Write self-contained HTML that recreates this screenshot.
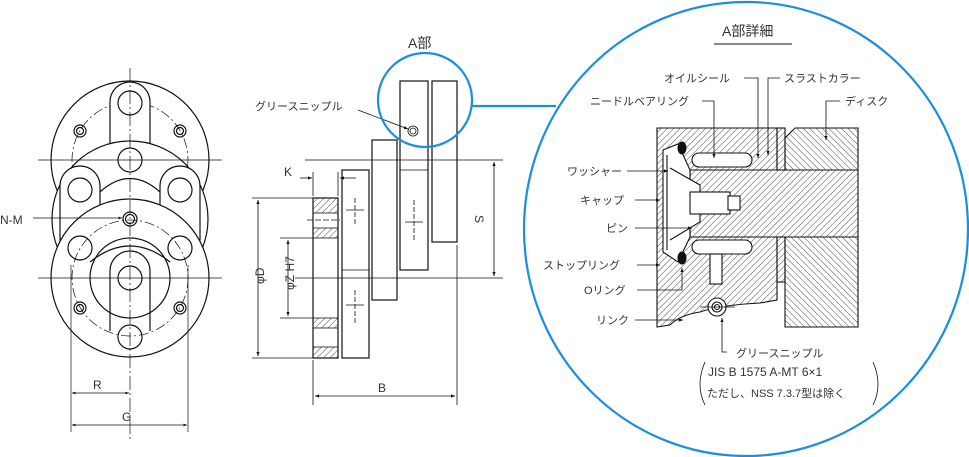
<!DOCTYPE html>
<html><head><meta charset="utf-8"><style>
html,body{margin:0;padding:0;background:#fff}
svg{display:block}
text{font-family:"Liberation Sans","Noto Sans CJK JP",sans-serif;fill:#333}
</style></head><body>
<svg width="969" height="457" viewBox="0 0 969 457" xmlns="http://www.w3.org/2000/svg">
<defs>
<pattern id="h" width="4.5" height="4.5" patternUnits="userSpaceOnUse" patternTransform="rotate(45)"><line x1="0" y1="0" x2="0" y2="4.5" stroke="#222" stroke-width="0.8"/></pattern>
<pattern id="h2" width="4.5" height="4.5" patternUnits="userSpaceOnUse" patternTransform="rotate(-45)"><line x1="0" y1="0" x2="0" y2="4.5" stroke="#222" stroke-width="0.8"/></pattern>
<marker id="a" viewBox="0 0 10 10" refX="10" refY="5" markerWidth="7" markerHeight="5" orient="auto-start-reverse"><path d="M0,1 L10,5 L0,9z" fill="#111"/></marker>
</defs>
<g fill="none" stroke="#111" stroke-width="1.2">
<circle cx="130" cy="160" r="79" fill="#fff"/>
<circle cx="130" cy="160" r="58" stroke-dasharray="10,3,2,3" stroke-width="0.7"/>
<path d="M110,224 L110,102 A20,20 0 0 1 150,102 L150,224" fill="#fff"/>
<circle cx="130" cy="103" r="12"/>
<circle cx="80" cy="131" r="6"/><circle cx="80" cy="131" r="3.5"/>
<circle cx="180" cy="131" r="6"/><circle cx="180" cy="131" r="3.5"/>
<circle cx="130" cy="219" r="78" fill="#fff"/>
<path d="M60,186 A20,20 0 0 1 100,186 L100,240 L60,240z" fill="#fff"/>
<path d="M160,186 A20,20 0 0 1 200,186 L200,240 L160,240z" fill="#fff"/>
<path d="M100,192 Q130,165 160,192" />
<circle cx="80" cy="190" r="12"/><circle cx="180" cy="190" r="12"/>
<circle cx="130" cy="160" r="12"/>
<circle cx="130" cy="278" r="79" fill="#fff"/>
<circle cx="130" cy="278" r="58" stroke-dasharray="10,3,2,3" stroke-width="0.7"/>
<circle cx="130" cy="278" r="40"/>
<path d="M110,331 L110,278 L110,271 A20,20 0 0 1 150,271 L150,331"/>
<path d="M90,262 Q130,230 170,262"/>
<circle cx="130" cy="278" r="12"/>
<circle cx="130" cy="337" r="12"/>
<circle cx="80" cy="248" r="12"/><circle cx="180" cy="248" r="12"/>
<circle cx="80" cy="308" r="6"/><circle cx="80" cy="308" r="3.5"/>
<circle cx="180" cy="308" r="6"/><circle cx="180" cy="308" r="3.5"/>
<circle cx="130" cy="219" r="7"/><circle cx="130" cy="219" r="4.5"/>
</g>
<g stroke="#111" stroke-width="0.7" fill="none">
<line x1="130" y1="68" x2="130" y2="440" stroke-dasharray="14,3,2,3"/>
<line x1="38" y1="160" x2="222" y2="160"/>
<line x1="38" y1="278" x2="222" y2="278"/>
<line x1="71" y1="265" x2="71" y2="432"/>
<line x1="188" y1="265" x2="188" y2="432"/>
<line x1="72" y1="393" x2="129" y2="393" marker-start="url(#a)" marker-end="url(#a)"/>
<line x1="72" y1="425" x2="187" y2="425" marker-start="url(#a)" marker-end="url(#a)"/>
<line x1="33" y1="218" x2="122" y2="218" marker-end="url(#a)"/>
</g>
<text x="0" y="224" font-size="12">N-M</text>
<text x="93" y="389" font-size="12">R</text>
<text x="122" y="421" font-size="12">G</text>

<g fill="#fff" stroke="#111" stroke-width="1.2">
<rect x="432" y="81" width="25" height="161"/>
<rect x="400" y="81" width="28" height="189"/>
<rect x="372" y="140" width="25" height="160"/>
<rect x="342" y="170" width="27" height="188"/>
<rect x="313" y="198" width="25" height="160"/>
</g>
<g stroke="#111" stroke-width="0.8" fill="none">
<line x1="400" y1="170" x2="428" y2="170"/>
<line x1="342" y1="270" x2="369" y2="270"/>
<rect x="313" y="198" width="25" height="15" fill="url(#h)"/>
<rect x="313" y="228" width="25" height="10" fill="url(#h)"/>
<rect x="313" y="318" width="25" height="10" fill="url(#h)"/>
<rect x="313" y="347" width="25" height="11" fill="url(#h)"/>
<line x1="307" y1="220" x2="340" y2="220" stroke-dasharray="6,2"/>
<line x1="305" y1="160" x2="503" y2="160"/>
<line x1="295" y1="278" x2="503" y2="278"/>
<line x1="494" y1="162" x2="494" y2="276" marker-start="url(#a)" marker-end="url(#a)"/>
<line x1="252" y1="198" x2="313" y2="198"/>
<line x1="252" y1="358" x2="313" y2="358"/>
<line x1="258" y1="200" x2="258" y2="356" marker-start="url(#a)" marker-end="url(#a)"/>
<line x1="280" y1="238" x2="313" y2="238"/>
<line x1="280" y1="318" x2="313" y2="318"/>
<line x1="288" y1="240" x2="288" y2="316" marker-start="url(#a)" marker-end="url(#a)"/>
<line x1="313" y1="360" x2="313" y2="405"/>
<line x1="457" y1="245" x2="457" y2="405"/>
<line x1="315" y1="396" x2="455" y2="396" marker-start="url(#a)" marker-end="url(#a)"/>
<line x1="313" y1="172" x2="313" y2="196"/><line x1="338" y1="172" x2="338" y2="196"/>
<line x1="300" y1="178" x2="312" y2="178" marker-end="url(#a)"/>
<line x1="340" y1="178" x2="356" y2="178" marker-start="url(#a)"/>
<line x1="355" y1="198" x2="355" y2="225" stroke-dasharray="5,2"/><line x1="346" y1="210" x2="364" y2="210"/>
<line x1="355" y1="290" x2="355" y2="325" stroke-dasharray="5,2"/><line x1="346" y1="305" x2="364" y2="305"/>
<line x1="414" y1="200" x2="414" y2="240" stroke-dasharray="5,2"/><line x1="405" y1="222" x2="423" y2="222"/>
<line x1="358" y1="110" x2="408" y2="129" marker-end="url(#a)"/>
<circle cx="413" cy="131" r="5"/><circle cx="413" cy="131" r="3"/>
</g>
<text x="284" y="176" font-size="12">K</text>
<text x="246" y="290" font-size="12" transform="rotate(-90 252 278)">φD</text>
<text x="270" y="290" font-size="12" transform="rotate(-90 282 278)">φZ H7</text>
<text x="475" y="225" font-size="12" transform="rotate(90 480 220)">S</text>
<text x="378" y="392" font-size="12">B</text>
<text x="255" y="110" font-size="11">グリースニップル</text>
<text x="408" y="48" font-size="14">A部</text>
<circle cx="425" cy="100" r="47" fill="none" stroke="#1a8ee0" stroke-width="2.2"/>
<line x1="472" y1="106" x2="556" y2="106" stroke="#1a8ee0" stroke-width="2.2"/>
<ellipse cx="746" cy="229" rx="222" ry="227" fill="none" stroke="#1a8ee0" stroke-width="2.2"/>

<text x="722" y="36" font-size="14">A部詳細</text>
<line x1="714" y1="44" x2="792" y2="44" stroke="#111" stroke-width="1"/>
<g stroke="#111" stroke-width="1.1">
<path d="M657,128 L777,128 L777,170 L690,170 L690,237 L777,237 L777,300 L760,303 Q720,305 700,312 Q680,315 670,325 L657,327 Z" fill="url(#h)"/>
<path d="M690,170 L858,170 L858,237 L690,237 Z" fill="url(#h)"/>
<path d="M795,128 L858,128 L858,170 L785,170 L785,138 Z" fill="url(#h2)"/>
<path d="M785,237 L858,237 L858,327 L785,327 Z" fill="url(#h2)"/>
<rect x="777" y="128" width="8" height="42" fill="url(#h)"/>
<rect x="777" y="237" width="8" height="45" fill="url(#h)"/>
<path d="M663,150 L663,252 L678,262 L690,237 L690,170 L678,144 Z" fill="#fff"/>
<path d="M667,155 L667,250" fill="none"/>
<path d="M670,168 L700,185 L700,222 L670,240" fill="#fff"/>
<rect x="690" y="192" width="40" height="22" fill="#fff"/>
<rect x="728" y="196" width="12" height="14" fill="#fff"/>
<rect x="692" y="153" width="60" height="14" rx="7" fill="#fff"/>
<rect x="692" y="240" width="60" height="14" rx="7" fill="#fff"/>
<rect x="710" y="254" width="12" height="30" fill="#fff"/>
<ellipse cx="682" cy="148" rx="4" ry="6" fill="#111"/>
<ellipse cx="682" cy="258" rx="4" ry="6" fill="#111"/>
<circle cx="717" cy="307" r="9" fill="#fff"/><circle cx="717" cy="307" r="5" fill="none"/><circle cx="717" cy="307" r="2.5" fill="none"/>
</g>
<g stroke="#111" stroke-width="0.8" fill="none">
<line x1="700" y1="307" x2="735" y2="307"/>
<polyline points="744,78 758,78 758,158" marker-end="url(#a)"/>
<polyline points="780,78 768,78 768,155" marker-end="url(#a)"/>
<polyline points="702,101 714,101 714,158" marker-end="url(#a)"/>
<polyline points="840,101 826,101 826,140" marker-end="url(#a)"/>
<line x1="627" y1="171" x2="668" y2="171" marker-end="url(#a)"/>
<line x1="635" y1="200" x2="660" y2="200" marker-end="url(#a)"/>
<line x1="635" y1="228" x2="692" y2="228" marker-end="url(#a)"/>
<line x1="637" y1="265" x2="660" y2="265" marker-end="url(#a)"/>
<polyline points="637,290 682,290 682,268" marker-end="url(#a)"/>
<line x1="635" y1="320" x2="683" y2="320" marker-end="url(#a)"/>
<polyline points="727,352 722,352 722,318" marker-end="url(#a)"/>
<path d="M705,362 Q695,385 705,405"/>
<path d="M873,362 Q883,385 873,405"/>
</g>
<g font-size="11">
<text x="664" y="82">オイルシール</text>
<text x="784" y="82">スラストカラー</text>
<text x="590" y="105">ニードルベアリング</text>
<text x="845" y="105">ディスク</text>
<text x="567" y="175">ワッシャー</text>
<text x="580" y="204">キャップ</text>
<text x="606" y="232">ピン</text>
<text x="543" y="269">ストップリング</text>
<text x="584" y="294">Oリング</text>
<text x="596" y="324">リンク</text>
<text x="736" y="357">グリースニップル</text>
<text x="708" y="376" font-size="12">JIS B 1575 A-MT 6×1</text>
<text x="707" y="397">ただし、NSS 7.3.7型は除く</text>
</g>
</svg>
</body></html>
